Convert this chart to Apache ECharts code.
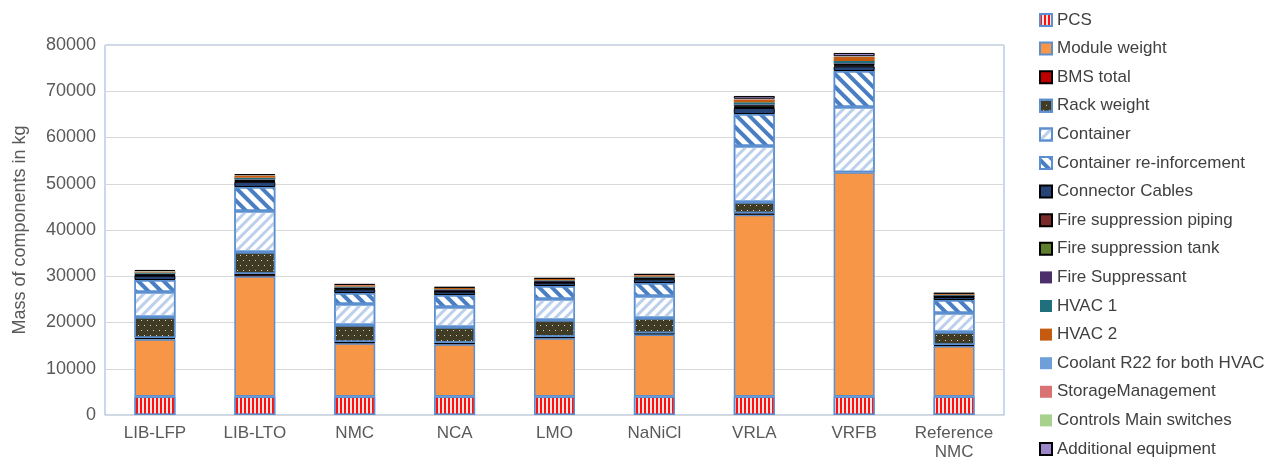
<!DOCTYPE html>
<html>
<head>
<meta charset="utf-8">
<script src="https://cdn.jsdelivr.net/npm/echarts@6/dist/echarts.min.js"></script>
<style>html,body{margin:0;padding:0;background:#fff}#c{width:1274px;height:464px}</style>
</head>
<body>
<div id="c"></div>
<script>
var categories = ['LIB-LFP', 'LIB-LTO', 'NMC', 'NCA', 'LMO', 'NaNiCl', 'VRLA', 'VRFB', 'Reference\nNMC'];
var yTicks = [0, 10000, 20000, 30000, 40000, 50000, 60000, 70000, 80000];

var pcs            = [4000, 4000, 4000, 4000, 4000, 4000, 4000, 4000, 4000];
var moduleWeight   = [12400, 26000, 11500, 11300, 12600, 13400, 39300, 48500, 10900];
var bmsTotal       = [250, 500, 300, 300, 300, 300, 300, 0, 250];
var rackWeight     = [4540, 4740, 3660, 3430, 3640, 3270, 2450, 0, 2800];
var container      = [5410, 8860, 4540, 4320, 4540, 4760, 12110, 14090, 4100];
var containerReinf = [2590, 5200, 2380, 2600, 2810, 2810, 6920, 7790, 2810];
var connectorCables= [900, 1100, 800, 700, 700, 810, 1300, 1000, 650];
var firePiping     = [150, 200, 130, 120, 120, 130, 250, 200, 100];
var fireTank       = [200, 250, 180, 160, 160, 180, 350, 300, 140];
var fireSuppressant= [100, 120, 90, 80, 80, 90, 150, 150, 70];
var hvac1          = [250, 350, 220, 200, 200, 220, 500, 500, 170];
var hvac2          = [250, 400, 250, 230, 230, 250, 600, 900, 190];
var coolant        = [20, 30, 20, 20, 20, 20, 40, 40, 20];
var storageMgmt    = [40, 50, 40, 40, 40, 40, 60, 60, 30];
var controls       = [50, 50, 40, 30, 30, 40, 50, 50, 30];
var additional     = [200, 250, 170, 150, 150, 170, 600, 700, 120];

var FONT = 'Liberation Sans';
var BLUE_BORDER = '#5b8fd0';

function seriesDef(name, data, style) {
  return {
    name: name,
    type: 'bar',
    stack: 'total',
    barWidth: 41,
    data: data.map(function (v) { return v === 0 ? '-' : v; }),
    itemStyle: style,
    emphasis: { disabled: true }
  };
}

var series = [
  seriesDef('PCS', pcs, {
    color: '#ffe4e4', borderColor: BLUE_BORDER, borderWidth: 1.5,
    decal: { symbol: 'rect', symbolSize: 1, color: '#ff1010', dashArrayX: [2, 2], dashArrayY: [4, 0], rotation: 0 }
  }),
  seriesDef('Module weight', moduleWeight, { color: '#f79646', borderColor: BLUE_BORDER, borderWidth: 1.5 }),
  seriesDef('BMS total', bmsTotal, { color: '#c00000', borderColor: '#000000', borderWidth: 1 }),
  seriesDef('Rack weight', rackWeight, {
    color: '#403b24', borderColor: BLUE_BORDER, borderWidth: 1.5,
    decal: { symbol: 'rect', symbolSize: 1, color: '#d8d4c0', dashArrayX: [[1, 5], [0, 3, 1, 2]], dashArrayY: [1, 4], rotation: 0 }
  }),
  seriesDef('Container', container, {
    color: '#ffffff', borderColor: BLUE_BORDER, borderWidth: 1.5,
    decal: { symbol: 'rect', symbolSize: 1, color: '#bcd0ec', dashArrayX: [1, 0], dashArrayY: [3, 4], rotation: -Math.PI / 4 }
  }),
  seriesDef('Container re-inforcement', containerReinf, {
    color: '#ffffff', borderColor: BLUE_BORDER, borderWidth: 1.5,
    decal: { symbol: 'rect', symbolSize: 1, color: '#4a7ec2', dashArrayX: [1, 0], dashArrayY: [4, 5], rotation: Math.PI / 4 }
  }),
  seriesDef('Connector Cables', connectorCables, { color: '#264478', borderColor: '#000000', borderWidth: 1 }),
  seriesDef('Fire suppression piping', firePiping, { color: '#7b2a2a', borderColor: '#000000', borderWidth: 1 }),
  seriesDef('Fire suppression tank', fireTank, { color: '#5e7e2c', borderColor: '#000000', borderWidth: 1 }),
  seriesDef('Fire Suppressant', fireSuppressant, { color: '#4a2f6a' }),
  seriesDef('HVAC 1', hvac1, { color: '#1f6f7c' }),
  seriesDef('HVAC 2', hvac2, { color: '#c55a11' }),
  seriesDef('Coolant R22 for both HVAC', coolant, { color: '#6f9fd8' }),
  seriesDef('StorageManagement', storageMgmt, { color: '#d97373' }),
  seriesDef('Controls Main switches', controls, { color: '#a9d18e' }),
  seriesDef('Additional equipment', additional, { color: '#9a86c8', borderColor: '#000000', borderWidth: 1 })
];

var chart = echarts.init(document.getElementById('c'), null, { renderer: 'canvas' });
chart.setOption({
  animation: false,
  backgroundColor: '#ffffff',
  grid: { left: 105, top: 45, right: 270, bottom: 49, show: true, borderColor: '#8db3e2', borderWidth: 1 },
  legend: {
    orient: 'vertical',
    left: 1039,
    top: 11,
    padding: 0,
    icon: 'rect',
    itemWidth: 12,
    itemHeight: 12,
    itemGap: 10.6,
    textStyle: { fontFamily: FONT, fontSize: 17, color: '#404040', lineHeight: 18 },
    data: series.map(function (s) { return s.name; })
  },
  xAxis: {
    type: 'category',
    data: categories,
    axisLine: { lineStyle: { color: '#d9d9d9', width: 1 } },
    axisTick: { show: false },
    axisLabel: { interval: 0, fontFamily: FONT, fontSize: 17, color: '#595959', margin: 9, lineHeight: 19 }
  },
  yAxis: {
    type: 'value',
    min: yTicks[0],
    max: yTicks[yTicks.length - 1],
    interval: yTicks[1] - yTicks[0],
    name: 'Mass of components in kg',
    nameLocation: 'middle',
    nameGap: 76,
    nameTextStyle: { fontFamily: FONT, fontSize: 18, color: '#595959' },
    axisLine: { show: false },
    axisTick: { show: false },
    splitLine: { lineStyle: { color: '#d9d9d9', width: 1 } },
    axisLabel: { fontFamily: FONT, fontSize: 18, color: '#595959', margin: 9, formatter: function (v) { return String(v); } }
  },
  series: series
});
</script>
</body>
</html>
